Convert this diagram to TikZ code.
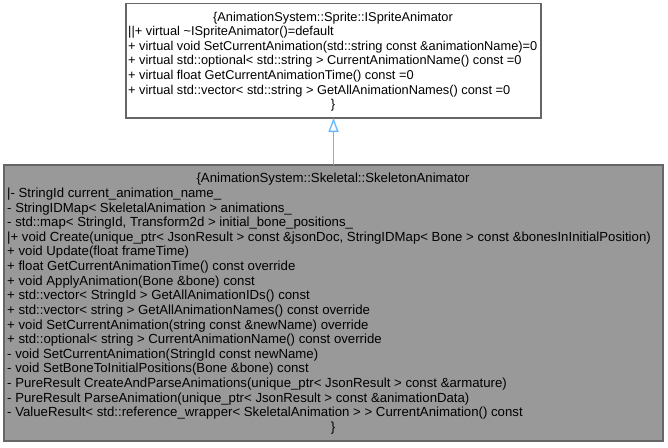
\documentclass[tikz,border=0pt]{standalone}
\usepackage{fontspec}
\setmainfont{Liberation Sans}
\usetikzlibrary{arrows.meta}
\definecolor{bordergray}{HTML}{666666}
\definecolor{classfill}{HTML}{999999}
\definecolor{inherit}{HTML}{63B8FF}
\begin{document}
\begin{tikzpicture}[x=1pt,y=-1pt,
  classbox/.style={draw=bordergray, line width=1.3pt, rectangle, inner sep=0pt, outer sep=0pt},
  ln/.style={anchor=base west, inner sep=0pt, font=\fontsize{13.2}{14.63}\selectfont},
  ttl/.style={anchor=base, inner sep=0pt, font=\fontsize{13.2}{14.63}\selectfont},
  lnt/.style={anchor=base west, inner sep=0pt, font=\fontsize{12.8}{14.63}\selectfont},
  ttlt/.style={anchor=base, inner sep=0pt, font=\fontsize{12.8}{14.63}\selectfont}]
\useasboundingbox (0,0) rectangle (668,447);
% boxes
\node[classbox, fill=white, minimum width=415pt, minimum height=114.5pt] (base) at (333.5,60.75) {};
\node[classbox, fill=classfill, minimum width=659pt, minimum height=276pt] (derived) at (333.5,303) {};
% base class text
\node[ttlt] (t0) at (333,21) {\{AnimationSystem::Sprite::ISpriteAnimator};
\node[lnt] (t1) at (128,35.63) {||+ virtual \textasciitilde ISpriteAnimator()=default};
\node[lnt] (t2) at (128,50.26) {+ virtual void SetCurrentAnimation(std::string const \&animationName)=0};
\node[lnt] (t3) at (128,64.89) {+ virtual std::optional< std::string > CurrentAnimationName() const =0};
\node[lnt] (t4) at (128,79.52) {+ virtual float GetCurrentAnimationTime() const =0};
\node[lnt] (t5) at (128,94.15) {+ virtual std::vector< std::string > GetAllAnimationNames() const =0};
\node[ttlt] (t6) at (333,108.78) {\}};
% derived class text
\node[ttl] (b0) at (333,182.8) {\{AnimationSystem::Skeletal::SkeletonAnimator};
\node[ln] (b1) at (7,197.43) {|- StringId current\_animation\_name\_};
\node[ln] (b2) at (7,212.06) {- StringIDMap< SkeletalAnimation > animations\_};
\node[ln] (b3) at (7,226.69) {- std::map< StringId, Transform2d > initial\_bone\_positions\_};
\node[ln] (b4) at (7,241.32) {|+ void Create(unique\_ptr< JsonResult > const \&jsonDoc, StringIDMap< Bone > const \&bonesInInitialPosition)};
\node[ln] (b5) at (7,255.95) {+ void Update(float frameTime)};
\node[ln] (b6) at (7,270.58) {+ float GetCurrentAnimationTime() const override};
\node[ln] (b7) at (7,285.21) {+ void ApplyAnimation(Bone \&bone) const};
\node[ln] (b8) at (7,299.84) {+ std::vector< StringId > GetAllAnimationIDs() const};
\node[ln] (b9) at (7,314.47) {+ std::vector< string > GetAllAnimationNames() const override};
\node[ln] (b10) at (7,329.10) {+ void SetCurrentAnimation(string const \&newName) override};
\node[ln] (b11) at (7,343.73) {+ std::optional< string > CurrentAnimationName() const override};
\node[ln] (b12) at (7,358.36) {- void SetCurrentAnimation(StringId const newName)};
\node[ln] (b13) at (7,372.99) {- void SetBoneToInitialPositions(Bone \&bone) const};
\node[ln] (b14) at (7,387.62) {- PureResult CreateAndParseAnimations(unique\_ptr< JsonResult > const \&armature)};
\node[ln] (b15) at (7,402.25) {- PureResult ParseAnimation(unique\_ptr< JsonResult > const \&animationData)};
\node[ln] (b16) at (7,416.88) {- ValueResult< std::reference\_wrapper< SkeletalAnimation > > CurrentAnimation() const};
\node[ttl] (b17) at (333,431.51) {\}};
% inheritance arrow
\draw[inherit, line width=1.3pt, -{Triangle[open, length=14pt, width=10pt]}] (derived.north) -- (base.south);
\end{tikzpicture}
\end{document}
